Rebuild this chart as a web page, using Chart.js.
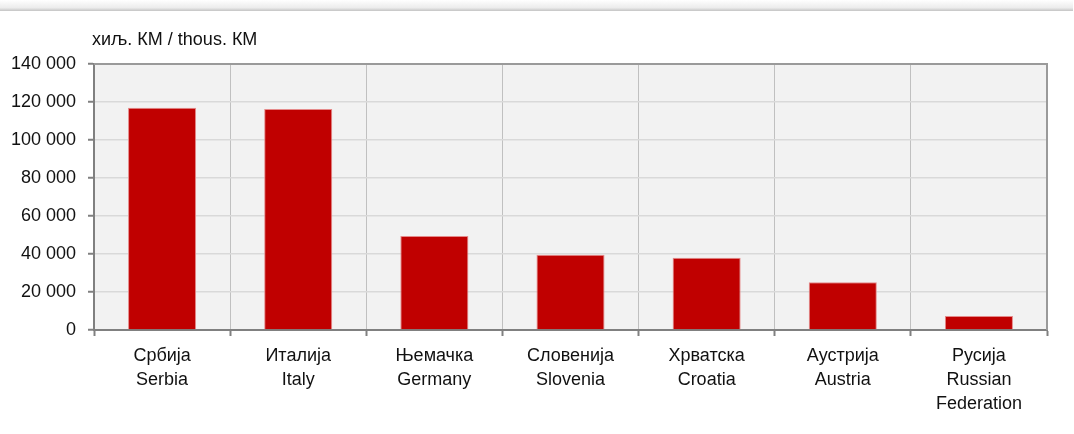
<!DOCTYPE html>
<html>
<head>
<meta charset="utf-8">
<script src="https://cdn.jsdelivr.net/npm/chart.js@4.4.1/dist/chart.umd.min.js"></script>
<style>
  html, body { margin: 0; padding: 0; background: #fff; }
  #wrap { position: relative; width: 1074px; height: 434px; }
  #band { position: absolute; left: 0; top: 0; width: 1073px; height: 11px;
          background: linear-gradient(to bottom, #ffffff, #ececec 70%, #c4c4c4); }
  canvas { position: absolute; left: 0; top: 0; }
</style>
</head>
<body>
<div id="wrap">
  <div id="band"></div>
  <canvas id="chart" width="1074" height="434"></canvas>
</div>
<script>
// podaci očitani sa slike
const countries = [
    ['Србија', 'Serbia'],
    ['Италија', 'Italy'],
    ['Њемачка', 'Germany'],
    ['Словенија', 'Slovenia'],
    ['Хрватска', 'Croatia'],
    ['Аустрија', 'Austria'],
    ['Русија', 'Russian', 'Federation']
];
const values = [117000, 116300, 49500, 39600, 38000, 25100, 7400];
const unitLabel = 'хиљ. КМ / thous. КМ';
const yMax = 140000;
const yStep = 20000;

const FONT = '"Liberation Sans", Arial, sans-serif';
const FONT_SIZE = 18;

function formatThousands(v) {
    return String(v).replace(/\B(?=(\d{3})+(?!\d))/g, ' ');
}

// pozadina i okvir područja grafikona
const plotFrame = {
    id: 'plotFrame',
    beforeDraw(chart) {
        const { ctx, chartArea: a } = chart;
        ctx.save();
        ctx.fillStyle = '#f2f2f2';
        ctx.fillRect(a.left, a.top, a.right - a.left, a.bottom - a.top);
        ctx.restore();
    },
    afterDatasetsDraw(chart) {
        const { ctx, chartArea: a } = chart;
        ctx.save();
        ctx.strokeStyle = '#9a9a9a';
        ctx.lineWidth = 2;
        ctx.beginPath();
        ctx.moveTo(a.left, a.top);
        ctx.lineTo(a.right, a.top);
        ctx.lineTo(a.right, a.bottom);
        ctx.stroke();
        // naslov jedinice
        ctx.fillStyle = '#111';
        ctx.font = FONT_SIZE + 'px ' + FONT;
        ctx.textBaseline = 'middle';
        ctx.textAlign = 'left';
        ctx.fillText(unitLabel, 92, 40);
        ctx.restore();
    }
};

const ctx = document.getElementById('chart').getContext('2d');
new Chart(ctx, {
    type: 'bar',
    data: {
        labels: countries,
        datasets: [{
            data: values,
            backgroundColor: '#c00000',
            borderColor: '#e58a8a',
            borderWidth: 1,
            barPercentage: 0.5,
            categoryPercentage: 1
        }]
    },
    options: {
        responsive: false,
        animation: false,
        layout: { padding: { top: 64, right: 27, left: 0, bottom: 0 } },
        plugins: {
            legend: { display: false },
            tooltip: { enabled: false }
        },
        scales: {
            x: {
                offset: true,
                grid: {
                    offset: true,
                    color: '#c0c0c0',
                    lineWidth: 1,
                    tickColor: '#808080',
                    tickLength: 6,
                    tickWidth: 2
                },
                border: { color: '#808080', width: 2 },
                ticks: {
                    color: '#111',
                    font: { family: FONT, size: FONT_SIZE, lineHeight: 1.33 },
                    padding: 8,
                    maxRotation: 0,
                    autoSkip: false
                },
                afterFit(scale) { scale.height = 104; }
            },
            y: {
                min: 0,
                max: yMax,
                grid: {
                    color: '#d9d9d9',
                    lineWidth: 1.5,
                    tickColor: '#808080',
                    tickLength: 6,
                    tickWidth: 2
                },
                border: { color: '#808080', width: 2 },
                ticks: {
                    stepSize: yStep,
                    color: '#111',
                    font: { family: FONT, size: FONT_SIZE },
                    padding: 12,
                    callback: v => formatThousands(v)
                },
                afterFit(scale) { scale.width = 94; }
            }
        }
    },
    plugins: [plotFrame]
});
</script>
</body>
</html>
